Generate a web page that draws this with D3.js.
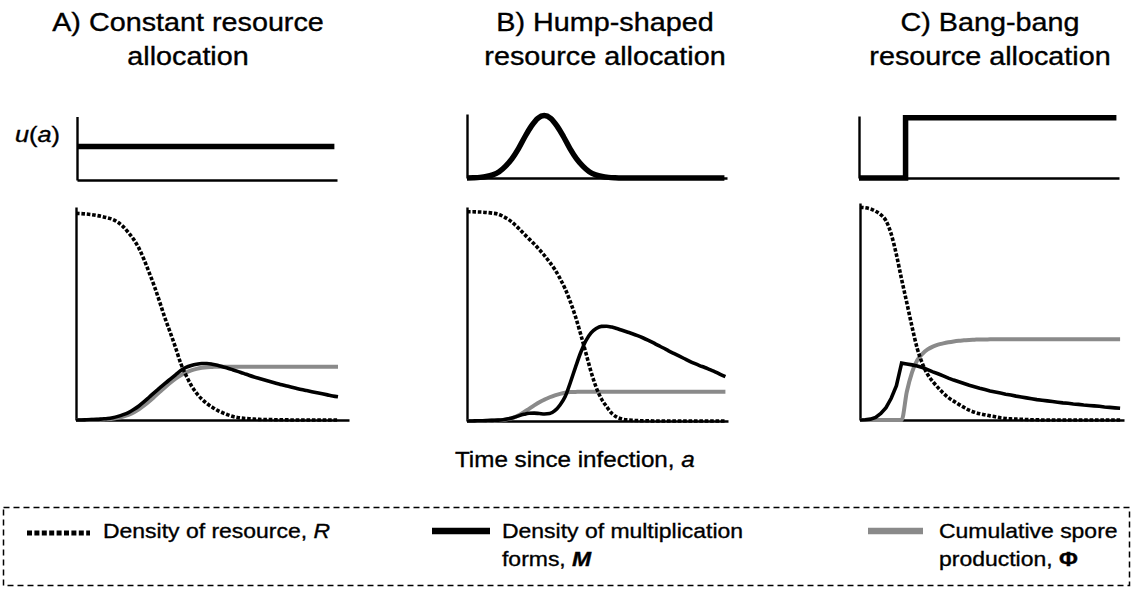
<!DOCTYPE html>
<html>
<head>
<meta charset="utf-8">
<script src="https://cdn.jsdelivr.net/npm/d3@7"></script>
<style>
  html, body { margin: 0; padding: 0; background: #fff; }
  svg { display: block; font-family: "Liberation Sans", Arial, Helvetica, sans-serif; }
  text { stroke: #000; stroke-width: 0.35px; }
</style>
</head>
<body>
<svg id="chart" width="1133" height="589"></svg>
<script>
// Time since infection (arbitrary units) shared by the state variables
const ages = [0,2,4,6,8,10,12,14,16,18,20,22,24,26,28,30,32,34,36,38,40,42,44,46,48,50,
  52,54,56,58,60,62,64,66,68,70,72,74,76,78,80,82,84,86,88,90,92,94,96,98,100];

// A) constant allocation
const resourceA = [0.97,0.969,0.967,0.964,0.96,0.955,0.949,0.942,0.928,0.908,0.88,0.848,0.807,0.752,0.69,0.625,
  0.552,0.477,0.41,0.34,0.265,0.21,0.162,0.126,0.098,0.077,0.06,0.045,0.034,0.024,0.016,0.011,0.008,0.006,0.004,
  0.003,0.002,0.002,0.001,0.001,0.001,0,0,0,0,0,0,0,0,0,0];
const multA = [0,0,0.001,0.002,0.003,0.005,0.007,0.011,0.017,0.025,0.035,0.049,0.066,0.086,0.108,0.13,0.151,0.172,
  0.192,0.212,0.232,0.247,0.256,0.262,0.265,0.265,0.262,0.257,0.25,0.243,0.235,0.227,0.219,0.21,0.202,0.195,0.188,
  0.181,0.174,0.167,0.161,0.155,0.149,0.143,0.138,0.133,0.128,0.123,0.118,0.113,0.109];
const sporesA = [0,0,0,0.001,0.001,0.002,0.004,0.006,0.01,0.016,0.024,0.035,0.05,0.068,0.088,0.11,0.132,0.154,0.175,
  0.194,0.21,0.223,0.233,0.24,0.245,0.248,0.249,0.25,0.25,0.25,0.25,0.25,0.25,0.25,0.25,0.25,0.25,0.25,0.25,0.25,
  0.25,0.25,0.25,0.25,0.25,0.25,0.25,0.25,0.25,0.25,0.25];

// B) hump-shaped allocation
const resourceB = [0.978,0.978,0.977,0.976,0.974,0.971,0.967,0.956,0.942,0.923,0.9,0.875,0.851,0.827,0.801,0.773,
  0.742,0.708,0.666,0.617,0.557,0.487,0.405,0.318,0.23,0.157,0.104,0.068,0.036,0.018,0.009,0.005,0.003,0.002,0.001,
  0.001,0,0,0,0,0,0,0,0,0,0,0,0,0,0,0];
const multB = [0,0,0.001,0.001,0.002,0.003,0.004,0.006,0.01,0.016,0.024,0.031,0.036,0.037,0.035,0.033,0.035,0.048,
  0.075,0.114,0.18,0.252,0.32,0.375,0.412,0.432,0.442,0.443,0.439,0.432,0.424,0.416,0.408,0.399,0.389,0.378,0.366,
  0.353,0.341,0.328,0.316,0.304,0.292,0.28,0.269,0.259,0.25,0.24,0.23,0.218,0.207];
const sporesB = [0,0,0,0,0.001,0.002,0.003,0.005,0.009,0.016,0.027,0.041,0.057,0.073,0.088,0.1,0.111,0.12,0.127,
  0.132,0.135,0.136,0.137,0.137,0.137,0.137,0.137,0.137,0.137,0.137,0.137,0.137,0.137,0.137,0.137,0.137,0.137,0.137,
  0.137,0.137,0.137,0.137,0.137,0.137,0.137,0.137,0.137,0.137,0.137,0.137,0.137];

// C) bang-bang allocation
const resourceC = [0.98,0.978,0.973,0.962,0.946,0.918,0.857,0.762,0.648,0.54,0.43,0.33,0.26,0.21,0.177,0.149,0.124,
  0.103,0.087,0.072,0.058,0.045,0.036,0.029,0.024,0.019,0.015,0.01,0.007,0.005,0.004,0.003,0.002,0.001,0.001,
  0,0,0,0,0,0,0,0,0,0,0,0,0,0,0,0];
const multC = [0,0.001,0.004,0.012,0.03,0.057,0.1,0.158,0.262,0.258,0.254,0.249,0.242,0.232,0.222,0.213,0.203,0.193,
  0.184,0.176,0.168,0.16,0.153,0.146,0.14,0.134,0.129,0.124,0.119,0.115,0.11,0.106,0.102,0.098,0.094,0.091,0.088,
  0.085,0.082,0.079,0.077,0.074,0.072,0.069,0.067,0.065,0.063,0.06,0.058,0.056,0.054];
const sporesC = [0,0,0,0,0,0,0,0,0,0.13,0.22,0.275,0.305,0.325,0.338,0.347,0.353,0.358,0.362,0.365,0.367,0.369,0.37,
  0.371,0.371,0.372,0.372,0.372,0.372,0.372,0.372,0.372,0.372,0.372,0.372,0.372,0.372,0.372,0.372,0.372,0.372,
  0.372,0.372,0.372,0.372,0.372,0.372,0.372,0.372,0.372,0.372];

// Allocation schedules u(a)
const constantAges = [0, 98.5];
const constantAlloc = [0.53, 0.53];
const humpAges = [0,2.5,5,7.5,10,12.5,15,17.5,20,22.5,25,27.5,30,32.5,35,37.5,40,42.5,45,47.5,50,52.5,55,57.5,60,100];
const humpAlloc = [0.001,0.004,0.01,0.023,0.05,0.1,0.19,0.31,0.47,0.66,0.83,0.955,1,0.955,0.83,0.66,0.47,0.31,0.19,
  0.1,0.05,0.023,0.01,0.004,0.001,0];
const bangAges = [0, 18, 99.5];
const bangAlloc = [0, 0.97, 0.97];

// Text
const titles = [["A) Constant resource", "allocation"], ["B) Hump-shaped", "resource allocation"],
  ["C) Bang-bang", "resource allocation"]];
const xLabel = "Time since infection, ";

// ---- layout ----
const panels = [
  { title: titles[0], cx: 188,
    u: { x: [77, 337], t: 99.5, y: [180, 117], top: 116.5, ages: constantAges, vals: constantAlloc, curve: d3.curveLinear },
    m: { x: [76, 349], t: 104.2, y: [420, 207], R: resourceA, M: multA, P: sporesA, mCurve: d3.curveMonotoneX } },
  { title: titles[1], cx: 605,
    u: { x: [467, 727], t: 101, y: [178, 115.5], top: 114, ages: humpAges, vals: humpAlloc, curve: d3.curveMonotoneX },
    m: { x: [467, 728], t: 101, y: [421, 207], R: resourceB, M: multB, P: sporesB, mCurve: d3.curveMonotoneX } },
  { title: titles[2], cx: 990,
    u: { x: [859, 1119], t: 100.5, y: [178, 116], top: 116, ages: bangAges, vals: bangAlloc, curve: d3.curveStepAfter },
    m: { x: [860, 1124], t: 101.5, y: [420, 203], R: resourceC, M: multC, P: sporesC, mCurve: d3.curveLinear } }
];

const svg = d3.select("#chart");

function stretchedText(g, x, y, anchor, size, sx) {
  return g.append("g")
    .attr("transform", `translate(${x},${y}) scale(${sx},1)`)
    .append("text")
    .attr("text-anchor", anchor)
    .attr("font-size", size)
    .attr("fill", "#000");
}

function drawAxes(g, x, y) {
  const ax = g.append("g").attr("transform", `translate(0,${y.range()[0]})`)
    .call(d3.axisBottom(x).tickValues([]).tickSizeOuter(0));
  const ay = g.append("g").attr("transform", `translate(${x.range()[0]},0)`)
    .call(d3.axisLeft(y).tickValues([]).tickSizeOuter(0));
  [ax, ay].forEach(a => a.select(".domain").attr("stroke", "#000").attr("stroke-width", 2.4));
}

panels.forEach(p => {
  const g = svg.append("g");

  // two-line title
  p.title.forEach((line, i) => {
    stretchedText(g, p.cx, 31 + i * 34, "middle", 25, 1.15).text(line);
  });

  // allocation schedule u(a)
  const ux = d3.scaleLinear().domain([0, p.u.t]).range(p.u.x);
  const uy = d3.scaleLinear().domain([0, 1]).range(p.u.y);
  const uAxisY = d3.scaleLinear().domain([0, 1]).range([p.u.y[0], p.u.top]);
  drawAxes(g, ux, uAxisY);
  g.append("path")
    .datum(p.u.ages.map((a, i) => [a, p.u.vals[i]]))
    .attr("fill", "none").attr("stroke", "#000").attr("stroke-width", 5.5)
    .attr("stroke-linejoin", "miter")
    .attr("d", d3.line().x(d => ux(d[0])).y(d => uy(d[1])).curve(p.u.curve));

  // state variables
  const x = d3.scaleLinear().domain([0, p.m.t]).range(p.m.x);
  const y = d3.scaleLinear().domain([0, 1]).range(p.m.y);
  drawAxes(g, x, y);
  const series = (vals) => ages.map((a, i) => [a, vals[i]]);
  const line = (curve) => d3.line().x(d => x(d[0])).y(d => y(d[1])).curve(curve);

  g.append("path").datum(series(p.m.P))
    .attr("fill", "none").attr("stroke", "#8a8a8a").attr("stroke-width", 4)
    .attr("d", line(d3.curveMonotoneX));
  g.append("path").datum(series(p.m.M))
    .attr("fill", "none").attr("stroke", "#000").attr("stroke-width", 3.6)
    .attr("stroke-linejoin", "miter")
    .attr("d", line(p.m.mCurve));
  g.append("path").datum(series(p.m.R))
    .attr("fill", "none").attr("stroke", "#000").attr("stroke-width", 3.6)
    .attr("stroke-dasharray", "3.6,1.8")
    .attr("d", line(d3.curveMonotoneX));
});

// u(a) label
const ul = stretchedText(svg, 15, 141.5, "start", 22, 1.15);
ul.append("tspan").attr("font-style", "italic").text("u");
ul.append("tspan").text("(");
ul.append("tspan").attr("font-style", "italic").text("a");
ul.append("tspan").text(")");

// shared x label
const xl = stretchedText(svg, 455, 466.5, "start", 22, 1.1);
xl.append("tspan").text(xLabel);
xl.append("tspan").attr("font-style", "italic").text("a");

// ---- legend ----
const leg = svg.append("g");
leg.append("rect")
  .attr("x", 3.5).attr("y", 507.5).attr("width", 1126).attr("height", 78)
  .attr("fill", "none").attr("stroke", "#000").attr("stroke-width", 1.5)
  .attr("stroke-dasharray", "6,4");

const legendItems = [
  { x1: 27, x2: 90, y: 533, stroke: "#000", width: 5, dash: "5,2.4", tx: 103,
    lines: [[["Density of resource, ", ""], ["R", "italic"]]] },
  { x1: 432, x2: 490, y: 531, stroke: "#000", width: 6.5, dash: null, tx: 502,
    lines: [[["Density of multiplication", ""]], [["forms, ", ""], ["M", "bolditalic"]]] },
  { x1: 868, x2: 923, y: 531, stroke: "#8a8a8a", width: 6.5, dash: null, tx: 939,
    lines: [[["Cumulative spore", ""]], [["production, ", ""], ["\u03A6", "bold"]]] }
];

legendItems.forEach(it => {
  leg.append("line")
    .attr("x1", it.x1).attr("x2", it.x2).attr("y1", it.y).attr("y2", it.y)
    .attr("stroke", it.stroke).attr("stroke-width", it.width)
    .attr("stroke-dasharray", it.dash);
  it.lines.forEach((parts, i) => {
    const t = stretchedText(leg, it.tx, 538 + i * 28, "start", 20.5, 1.12);
    parts.forEach(([txt, style]) => {
      const s = t.append("tspan").text(txt);
      if (style.includes("italic")) s.attr("font-style", "italic");
      if (style.includes("bold")) s.attr("font-weight", "bold");
    });
  });
});
</script>
</body>
</html>
